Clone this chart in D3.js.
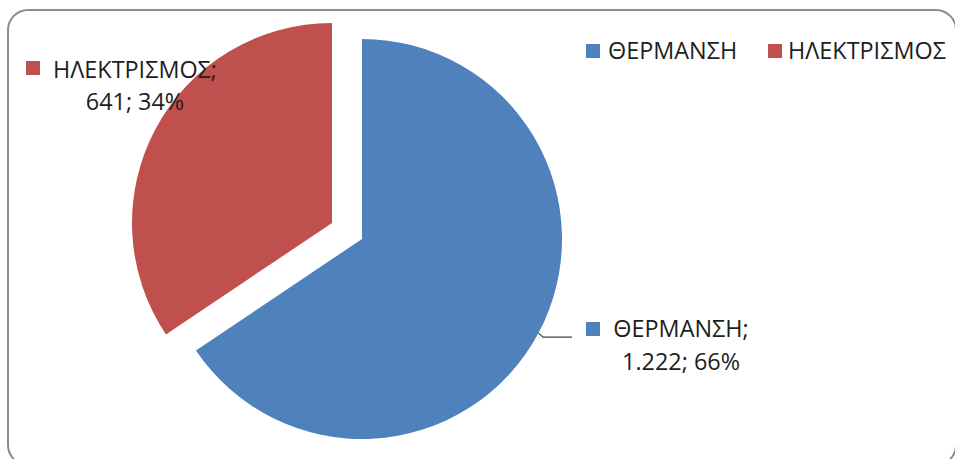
<!DOCTYPE html>
<html><head><meta charset="utf-8">
<script src="https://cdn.jsdelivr.net/npm/d3@7"></script>
<style>
  body { margin: 0; background: #fff; }
  text { font-family: "Open Sans", "Noto Sans", sans-serif; font-size: 23.4px; fill: #1e1e1e; }
</style>
</head><body>
<svg width="955" height="459"></svg>
<script>
// Energy use by category
const categories = ["ΘΕΡΜΑΝΣΗ", "ΗΛΕΚΤΡΙΣΜΟΣ"];
const values = [1222, 641];
const valueLabels = ["1.222", "641"];
const colors = ["#4F81BD", "#C0504D"];

const svg = d3.select("svg");

// Chart area frame
svg.append("rect")
  .attr("x", 8).attr("y", 10)
  .attr("width", 948).attr("height", 455)
  .attr("rx", 20).attr("ry", 20)
  .attr("fill", "#fff")
  .attr("stroke", "#8c8c8c")
  .attr("stroke-width", 2);

const cx = 362, cy = 239, radius = 200, explode = 34;
const total = d3.sum(values);
const pct = v => Math.round(v / total * 100) + "%";

const pie = d3.pie().sort(null).value(d => d.value);
const arcs = pie(categories.map((c, i) => ({ name: c, value: values[i], label: valueLabels[i], color: colors[i] })));
const arc = d3.arc().innerRadius(0).outerRadius(radius);

const g = svg.append("g").attr("transform", `translate(${cx},${cy})`);

// Second slice is pulled out along its mid-angle
const offset = (d, i) => {
  if (i !== 1) return [0, 0];
  const a = (d.startAngle + d.endAngle) / 2;
  return [Math.sin(a) * explode, -Math.cos(a) * explode];
};

g.selectAll("path.slice")
  .data(arcs)
  .join("path")
  .attr("class", "slice")
  .attr("d", arc)
  .attr("fill", d => d.data.color)
  .attr("transform", (d, i) => `translate(${offset(d, i)})`);

// Leader line for the first slice's label
{
  const d = arcs[0];
  const a = (d.startAngle + d.endAngle) / 2;
  const p0 = [cx + Math.sin(a) * radius, cy - Math.cos(a) * radius];
  const p1 = [p0[0] + 4.5, p0[1] + 4];
  const p2 = [572, p1[1]];
  svg.append("path")
    .attr("d", d3.line()([p0, p1, p2]))
    .attr("fill", "none")
    .attr("stroke", "#404040")
    .attr("stroke-width", 1.2);
}

// Data labels: key square, name, value and percentage
const labelPos = [
  { key: [586, 322], cx: 681, y1: 337, y2: 370 },
  { key: [26, 61], cx: 135, y1: 78, y2: 110 }
];
arcs.forEach((d, i) => {
  const p = labelPos[i];
  svg.append("rect")
    .attr("x", p.key[0]).attr("y", p.key[1])
    .attr("width", 14).attr("height", 14)
    .attr("fill", d.data.color);
  svg.append("text")
    .attr("x", p.cx).attr("y", p.y1)
    .attr("text-anchor", "middle")
    .text(d.data.name + ";");
  svg.append("text")
    .attr("x", p.cx).attr("y", p.y2)
    .attr("text-anchor", "middle")
    .text(d.data.label + "; " + pct(d.data.value));
});

// Legend
const legendItems = [
  { x: 586, tx: 608 },
  { x: 768, tx: 788 }
];
categories.forEach((c, i) => {
  svg.append("rect")
    .attr("x", legendItems[i].x).attr("y", 44)
    .attr("width", 14).attr("height", 14)
    .attr("fill", colors[i]);
  svg.append("text")
    .attr("x", legendItems[i].tx).attr("y", 59)
    .text(c);
});
</script></body></html>
